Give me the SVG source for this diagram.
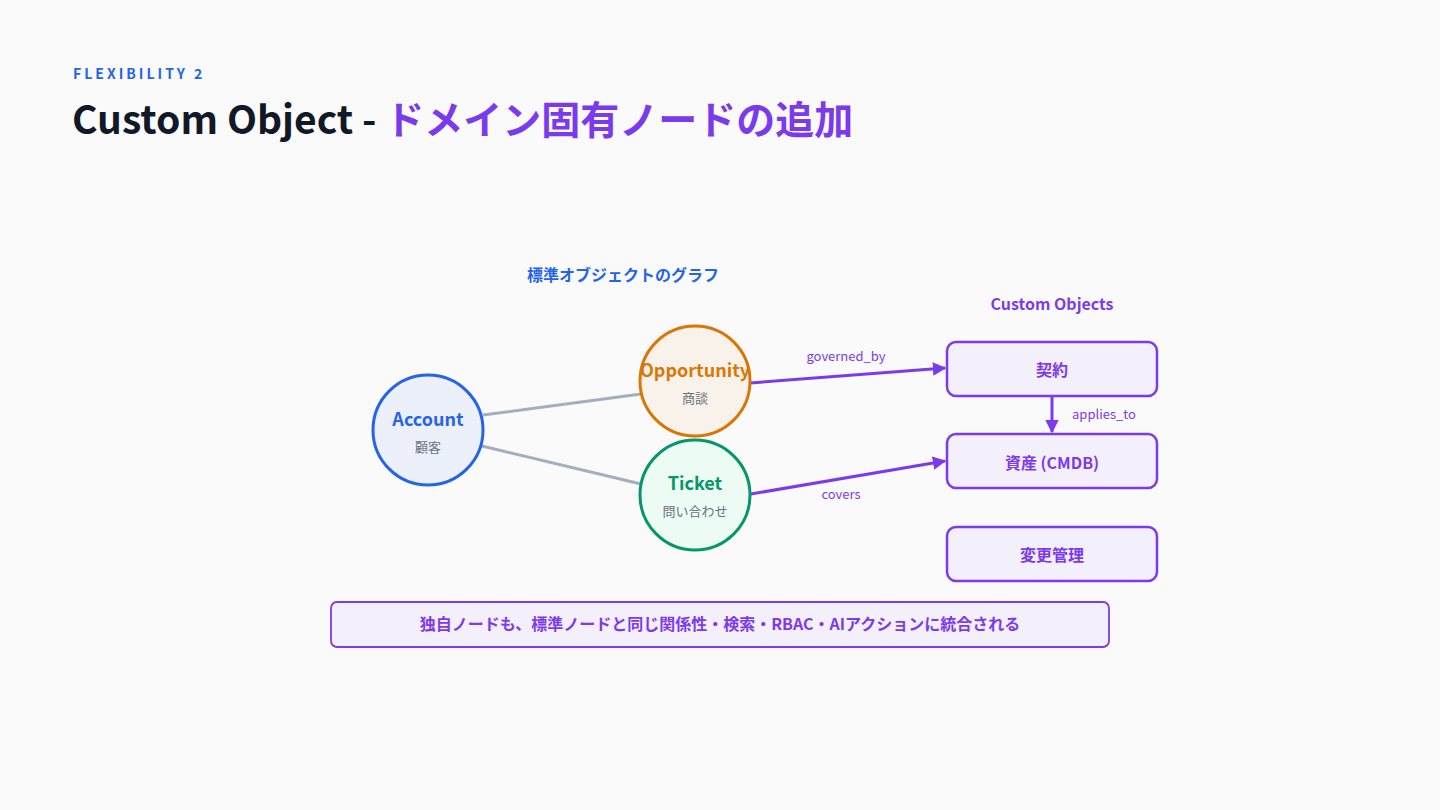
<svg xmlns="http://www.w3.org/2000/svg" width="1440" height="810" viewBox="0 0 1440 810">
<defs>
<style>
text{font-family:"Noto Sans CJK JP","Noto Sans",sans-serif;}
.ttl{font-size:39px;font-weight:700;}
.nm{font-size:18px;font-weight:700;text-anchor:middle;}
.sub{font-size:13px;fill:#6b7280;text-anchor:middle;}
.box{fill:#f3effb;stroke:#7c3aed;stroke-width:2.5;}
.bx{font-size:16px;font-weight:700;fill:#7c3aed;text-anchor:middle;}
.el{font-size:13px;fill:#7c3aed;}
.gray{stroke:#a3aec0;stroke-width:3;fill:none;}
.pur{stroke:#7c3aed;stroke-width:3;fill:none;}
</style>
<marker id="ah" viewBox="0 0 10 10" refX="9" refY="5" markerWidth="4.5" markerHeight="4.5" orient="auto" markerUnits="strokeWidth">
<path d="M0,0 L10,5 L0,10 z" fill="#7c3aed"/>
</marker>
</defs>
<rect width="1440" height="810" fill="#fafafa"/>
<text x="73" y="79" font-size="14" font-weight="700" fill="#2563eb" letter-spacing="3">FLEXIBILITY 2</text>
<text x="72" y="134" class="ttl"><tspan fill="#111827">Custom Object - </tspan><tspan fill="#7c3aed">ドメイン固有ノードの追加</tspan></text>
<text x="623" y="281" font-size="16" font-weight="700" fill="#2563eb" text-anchor="middle">標準オブジェクトのグラフ</text>
<text x="1052" y="310" font-size="16" font-weight="700" fill="#7c3aed" text-anchor="middle">Custom Objects</text>
<g id="connectors">
<line class="gray" x1="483" y1="415" x2="641" y2="394"/>
<line class="gray" x1="482" y1="446" x2="641" y2="484"/>
<line class="pur" x1="750" y1="383" x2="945" y2="368" marker-end="url(#ah)"/>
<text class="el" x="846" y="361" text-anchor="middle">governed_by</text>
<line class="pur" x1="751" y1="494" x2="945" y2="461" marker-end="url(#ah)"/>
<text class="el" x="841" y="499" text-anchor="middle">covers</text>
<line class="pur" x1="1052" y1="397" x2="1052" y2="432" stroke-width="2.5" marker-end="url(#ah)"/>
<text class="el" x="1072" y="419">applies_to</text>
</g>
<g id="account">
<circle cx="428" cy="430" r="55" fill="#ecf0fb" stroke="#2563eb" stroke-width="3"/>
<text class="nm" x="428" y="426" fill="#2563eb">Account</text>
<text class="sub" x="428" y="452">顧客</text>
</g>
<g id="opportunity">
<circle cx="695" cy="381" r="55" fill="#f9f2ea" stroke="#d97706" stroke-width="3"/>
<text class="nm" x="695" y="377" fill="#d97706">Opportunity</text>
<text class="sub" x="695" y="403">商談</text>
</g>
<g id="ticket">
<circle cx="695" cy="495" r="55" fill="#ecfbf4" stroke="#059669" stroke-width="3"/>
<text class="nm" x="695" y="490" fill="#059669">Ticket</text>
<text class="sub" x="695" y="516">問い合わせ</text>
</g>
<g id="keiyaku">
<rect class="box" x="947" y="342" width="210" height="54" rx="9"/>
<text class="bx" x="1052" y="376">契約</text>
</g>
<g id="shisan">
<rect class="box" x="947" y="434" width="210" height="54" rx="9"/>
<text class="bx" x="1052" y="469">資産 (CMDB)</text>
</g>
<g id="henkou">
<rect class="box" x="947" y="527" width="210" height="54" rx="9"/>
<text class="bx" x="1052" y="561">変更管理</text>
</g>
<g id="note">
<rect x="331" y="602" width="778" height="45" rx="6" fill="#f3effb" stroke="#7c3aed" stroke-width="1.8"/>
<text class="bx" x="720" y="630">独自ノードも、標準ノードと同じ関係性・検索・RBAC・AIアクションに統合される</text>
</g>
</svg>
